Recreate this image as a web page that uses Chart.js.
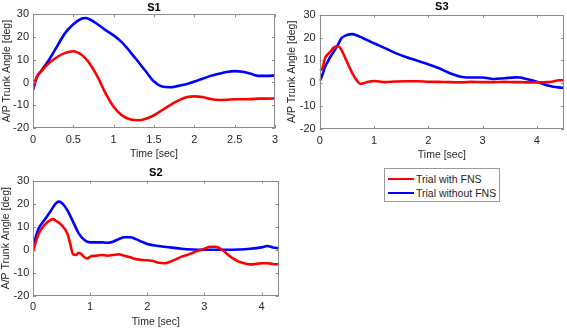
<!DOCTYPE html>
<html>
<head>
<meta charset="utf-8">
<script src="https://cdn.jsdelivr.net/npm/chart.js@4.4.1/dist/chart.umd.min.js"></script>
<style>
  body { margin: 0; background: #fff; width: 567px; height: 329px; position: relative; overflow: hidden;
         font-family: "Liberation Sans", Arial, sans-serif; }
  canvas { position: absolute; }
  #legend { position: absolute; left: 384px; top: 168px; width: 114px; height: 32px; border: 1px solid #9a9a9a;
            background: #fff; font-size: 10.5px; color: #262626; }
  .row { position: absolute; left: 0; height: 14px; line-height: 14px; white-space: nowrap; }
  .row span.ln { position: absolute; left: 3px; top: 5.5px; width: 26px; height: 2.6px; }
  .row span.tx { position: absolute; left: 31px; top: 0; }
</style>
</head>
<body>
<canvas id="s1" width="285" height="165" style="left:0;top:0"></canvas>
<canvas id="s3" width="282" height="165" style="left:285px;top:0"></canvas>
<canvas id="s2" width="290" height="164" style="left:0;top:165px"></canvas>
<div id="legend">
  <div class="row" style="top:3px"><span class="ln" style="background:#ff0000"></span><span class="tx">Trial with FNS</span></div>
  <div class="row" style="top:17px"><span class="ln" style="background:#0000ff"></span><span class="tx">Trial without FNS</span></div>
</div>
<script>
// S1
const s1Time = [0,0.05,0.1,0.2,0.3,0.4,0.5,0.6,0.65,0.7,0.8,0.9,1.0,1.1,1.2,1.3,1.4,1.5,1.6,1.7,1.8,1.9,2.0,2.1,2.2,2.3,2.4,2.5,2.6,2.7,2.8,2.9,3.0];
const s1With = [-2,2.6,4.8,8.5,11.2,13,13.7,12.2,10.6,8.5,2.6,-4.8,-10.7,-14.4,-16.2,-16.6,-15.9,-14.4,-12.2,-9.9,-8,-6.5,-6.1,-6.4,-7.3,-7.7,-7.6,-7.4,-7.4,-7.3,-7.1,-7.1,-7.0];
const s1Without = [-3.3,2.5,5,10,16,21.8,25.6,28,28.3,27.8,25.6,23,20.7,17.7,13.7,9.3,4.8,0.4,-1.8,-2.1,-1.5,-0.8,0.4,1.6,2.9,3.8,4.6,5,4.7,3.8,2.9,2.9,3.1];
const s1Ticks = [0,0.5,1,1.5,2,2.5,3];

// S3
const s3Time = [0,0.05,0.1,0.15,0.2,0.25,0.3,0.35,0.4,0.5,0.6,0.7,0.75,0.8,0.9,1.0,1.2,1.4,1.6,1.8,2.0,2.2,2.4,2.6,2.8,3.0,3.2,3.4,3.6,3.7,3.8,4.0,4.2,4.3,4.4,4.5];
const s3With = [5.6,6.6,11,12.7,13.9,15.4,16.1,16.1,14.6,9.5,4.4,0.7,-0.3,0,0.7,1.0,0.5,0.8,0.9,0.9,0.7,0.6,0.5,0.4,0.6,0.5,0.5,0.6,0.5,0.5,0.4,0.4,0.5,0.8,1.3,1.3];
const s3Without = [1,3.7,7.3,9.5,11.7,13.5,15.4,17.5,19.7,21.1,21.5,20.8,20.3,19.7,18.6,17.5,15.4,13.2,11.4,9.9,8.3,6.6,4.4,2.9,2.5,2.5,1.9,2.2,2.6,2.5,1.9,0.7,-1,-1.5,-1.8,-2];
const s3Ticks = [0,1,2,3,4];

// S2
const s2TimeWith = [0,0.05,0.1,0.2,0.3,0.35,0.4,0.5,0.6,0.65,0.7,0.75,0.8,0.85,0.9,0.95,1.0,1.1,1.2,1.3,1.4,1.5,1.6,1.7,1.8,2.0,2.1,2.2,2.3,2.4,2.5,2.6,2.7,2.8,2.9,3.0,3.1,3.2,3.3,3.4,3.5,3.6,3.7,3.8,3.9,4.0,4.1,4.2,4.3];
const s2With = [-0.9,3.5,7.1,10.7,12.9,13.3,12.6,10.7,7.1,2.8,-2,-2.3,-1.3,-2,-3.3,-3.8,-3,-2.6,-2.3,-2.6,-2.3,-2,-2.6,-3.3,-4.1,-4.6,-4.9,-5.7,-5.9,-5.2,-4.2,-3,-2.3,-1.3,-0.4,0.4,1.3,1.3,0.1,-1.9,-3.8,-5.2,-5.9,-6.4,-6.2,-5.9,-5.9,-6.2,-6.4];
const s2TimeWithout = [0,0.05,0.1,0.2,0.3,0.4,0.45,0.5,0.6,0.7,0.8,0.9,1.0,1.1,1.2,1.3,1.4,1.5,1.6,1.7,1.8,1.9,2.0,2.2,2.4,2.6,2.8,3.0,3.2,3.4,3.6,3.8,4.0,4.1,4.2,4.3];
const s2Without = [1.3,5.7,9.3,12.9,16.5,20.1,20.9,20.4,17.2,12.2,7.1,4.2,3.2,3.2,3.2,3.0,3.5,4.6,5.4,5.4,4.6,3.5,2.5,1.6,1.0,0.4,0.1,0,0,0,0.1,0.4,1.0,1.6,1.0,0.6];
const s2Ticks = [0,1,2,3,4];

const yTicks = [-20,-10,0,10,20,30];

const FONT = "'Liberation Sans', Arial, sans-serif";
const TXT = '#262626';

function pts(xs, ys) {
  return xs.map((x, i) => ({x: x, y: ys[i]}));
}

// MATLAB-like box with inward ticks on all sides
const boxPlugin = {
  id: 'matlabBox',
  afterDatasetsDraw(chart) {
    const {ctx, chartArea: a, scales} = chart;
    ctx.save();
    ctx.strokeStyle = '#8c8c8c';
    ctx.lineWidth = 1;
    ctx.strokeRect(Math.round(a.left) + 0.5, Math.round(a.top) + 0.5,
                   Math.round(a.right - a.left) - 1, Math.round(a.bottom - a.top) - 1);
    ctx.beginPath();
    scales.x.ticks.forEach(t => {
      const px = Math.round(scales.x.getPixelForValue(t.value)) + 0.5;
      ctx.moveTo(px, a.bottom); ctx.lineTo(px, a.bottom - 3);
      ctx.moveTo(px, a.top); ctx.lineTo(px, a.top + 3);
    });
    scales.y.ticks.forEach(t => {
      const py = Math.round(scales.y.getPixelForValue(t.value)) + 0.5;
      ctx.moveTo(a.left, py); ctx.lineTo(a.left + 3, py);
      ctx.moveTo(a.right, py); ctx.lineTo(a.right - 3, py);
    });
    ctx.stroke();
    ctx.restore();
  }
};

function makeChart(id, name, withData, withoutData, xMax, xTicks, g) {
  return new Chart(document.getElementById(id).getContext('2d'), {
    type: 'line',
    data: {
      datasets: [
        {label: 'Trial with FNS', data: withData, borderColor: '#ff0000', borderWidth: 2.6,
         pointRadius: 0, cubicInterpolationMode: 'monotone', fill: false},
        {label: 'Trial without FNS', data: withoutData, borderColor: '#0000ff', borderWidth: 2.6,
         pointRadius: 0, cubicInterpolationMode: 'monotone', fill: false}
      ]
    },
    options: {
      responsive: false,
      animation: false,
      layout: {padding: {left: 0, right: g.right, top: 0, bottom: 0}},
      plugins: {
        legend: {display: false},
        tooltip: {enabled: false},
        title: {display: true, text: name, fullSize: false, color: '#000',
                font: {family: FONT, size: 11, weight: 'bold'},
                padding: {top: g.tTop, bottom: g.tBot}}
      },
      scales: {
        x: {
          type: 'linear', min: 0, max: xMax,
          grid: {display: false, drawTicks: false},
          border: {display: false},
          ticks: {color: TXT, font: {family: FONT, size: 11}, padding: 5, maxRotation: 0, autoSkip: false,
                  callback: v => String(v)},
          afterBuildTicks: s => { s.ticks = xTicks.map(v => ({value: v})); },
          afterFit: s => { s.height = g.xH; },
          title: {display: true, text: 'Time [sec]', color: TXT, font: {family: FONT, size: 10.5},
                  padding: {top: 0, bottom: g.xTB}}
        },
        y: {
          type: 'linear', min: -20, max: 30,
          grid: {display: false, drawTicks: false},
          border: {display: false},
          ticks: {color: TXT, font: {family: FONT, size: 11}, padding: g.yPad, callback: v => String(v)},
          afterBuildTicks: s => { s.ticks = yTicks.map(v => ({value: v})); },
          afterFit: s => { s.width = g.yW; },
          title: {display: true, text: 'A/P Trunk Angle [deg]', color: TXT, font: {family: FONT, size: 10.5},
                  padding: {top: g.yTP, bottom: 0}}
        }
      }
    },
    plugins: [boxPlugin]
  });
}

makeChart('s1', 'S1', pts(s1Time, s1With), pts(s1Time, s1Without), 3, s1Ticks,
  {right: 10, tTop: 1, tBot: 0, xH: 37, xTB: 4.7, yW: 33, yPad: 4, yTP: 0.4});
makeChart('s3', 'S3', pts(s3Time, s3With), pts(s3Time, s3Without), 4.5, s3Ticks,
  {right: 3, tTop: 0, tBot: 1.5, xH: 36, xTB: 3.7, yW: 34.7, yPad: 4, yTP: 1});
makeChart('s2', 'S2', pts(s2TimeWith, s2With), pts(s2TimeWithout, s2Without), 4.3, s2Ticks,
  {right: 11.3, tTop: 1.5, tBot: 1, xH: 33.3, xTB: 0.7, yW: 33, yPad: 3.7, yTP: 0});
</script>
</body>
</html>
